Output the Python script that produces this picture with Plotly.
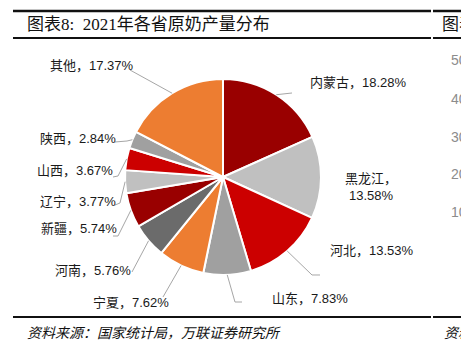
import math
import plotly.graph_objects as go

# 2021 raw milk output share by province (%)
provinces = ["内蒙古", "黑龙江", "河北", "山东", "宁夏", "河南", "新疆", "辽宁", "山西", "陕西", "其他"]
shares = [18.28, 13.58, 13.53, 7.83, 7.62, 5.76, 5.74, 3.77, 3.67, 2.84, 17.37]
slice_colors = ["#990000", "#C0C0C0", "#CC0000", "#A0A0A0", "#ED7D31", "#6B6B6B",
                "#990000", "#C0C0C0", "#CC0000", "#A0A0A0", "#ED7D31"]

# next panel's axis ticks (partially visible at the right edge)
next_ticks = ["50", "40", "30", "20", "10"]

W, H = 461, 350
CX, CY, R = 223, 177, 98


def px(x):
    return x / W


def py(y):
    return 1 - y / H


fig = go.Figure(go.Pie(
    labels=provinces,
    values=shares,
    sort=False,
    direction="clockwise",
    rotation=0,
    marker=dict(colors=slice_colors, line=dict(color="white", width=2)),
    textinfo="none",
    hoverinfo="label+value",
    showlegend=False,
    domain=dict(x=[px(CX - R), px(CX + R)], y=[py(CY + R), py(CY - R)]),
))

# label placement: (text anchor x, y, xanchor, leader path after the slice edge)
label_layout = {
    "内蒙古": (308, 83, "left", [(292, 93)]),
    "黑龙江": (371, 187, "center", []),
    "河北": (328, 250, "left", [(312, 275), (320, 275)]),
    "山东": (270, 298, "left", [(235, 302), (242, 302)]),
    "宁夏": (171, 302, "right", [(163, 297)]),
    "河南": (133, 270, "right", [(132, 272)]),
    "新疆": (119, 228, "right", [(118, 236), (113, 236)]),
    "辽宁": (118, 201, "right", [(120, 203), (115, 205)]),
    "山西": (115, 170, "right", [(118, 176), (113, 177)]),
    "陕西": (118, 138, "right", [(127, 141), (115, 142)]),
    "其他": (136, 65, "right", [(130, 70)]),
}

label_font = dict(family="Liberation Sans, Noto Sans CJK SC", size=13, color="#1a1a1a")
annotations = []
shapes = []

total = sum(shares)
cum = 0.0
for name, val in zip(provinces, shares):
    mid = (cum + val / 2) / total * 2 * math.pi
    cum += val
    ex = CX + R * math.sin(mid)
    ey = CY - R * math.cos(mid)
    tx, ty, anchor, path = label_layout[name]
    if name == "黑龙江":
        text = f"{name}，<br>{val:.2f}%"
    else:
        text = f"{name}，{val:.2f}%"
    annotations.append(dict(
        x=px(tx), y=py(ty), xref="paper", yref="paper", text=text,
        showarrow=False, xanchor=anchor, yanchor="middle", font=label_font, align="center",
    ))
    pts = [(ex, ey)] + path
    if len(pts) > 1:
        d = "M " + " L ".join(f"{px(a):.5f},{py(b):.5f}" for a, b in pts)
        shapes.append(dict(type="path", path=d, xref="paper", yref="paper",
                           line=dict(color="#A6A6A6", width=1)))

# frame rules: title band and footer
for y0, w in [(11, 2.5), (38, 2), (317, 2)]:
    for xa, xb in [(13, 431), (433, 461)]:
        shapes.append(dict(type="line", x0=px(xa), x1=px(xb), y0=py(y0), y1=py(y0),
                           xref="paper", yref="paper", line=dict(color="#111111", width=w)))

annotations.append(dict(
    x=px(25), y=py(25), xref="paper", yref="paper", showarrow=False,
    xanchor="left", yanchor="middle", text="图表8:  2021年各省原奶产量分布",
    font=dict(family="Liberation Serif, Noto Sans CJK SC", size=17, color="#111111"),
))
annotations.append(dict(
    x=px(25), y=py(332), xref="paper", yref="paper", showarrow=False,
    xanchor="left", yanchor="middle", text="<i>资料来源：国家统计局，万联证券研究所</i>",
    font=dict(family="Noto Sans CJK SC", size=14, color="#111111"),
))
annotations.append(dict(
    x=px(440), y=py(25), xref="paper", yref="paper", showarrow=False,
    xanchor="left", yanchor="middle", text="图表",
    font=dict(family="Liberation Serif, Noto Sans CJK SC", size=17, color="#111111"),
))
annotations.append(dict(
    x=px(442), y=py(332), xref="paper", yref="paper", showarrow=False,
    xanchor="left", yanchor="middle", text="<i>资料</i>",
    font=dict(family="Noto Sans CJK SC", size=14, color="#111111"),
))
for t, yy in zip(next_ticks, [60, 99, 137, 174, 212]):
    annotations.append(dict(
        x=px(449), y=py(yy), xref="paper", yref="paper", showarrow=False,
        xanchor="left", yanchor="middle", text=t,
        font=dict(family="Liberation Sans", size=14, color="#8C8C8C"),
    ))

fig.update_layout(
    width=W, height=H,
    margin=dict(l=0, r=0, t=0, b=0),
    paper_bgcolor="white", plot_bgcolor="white",
    annotations=annotations, shapes=shapes,
)

fig.write_html("out.html")
